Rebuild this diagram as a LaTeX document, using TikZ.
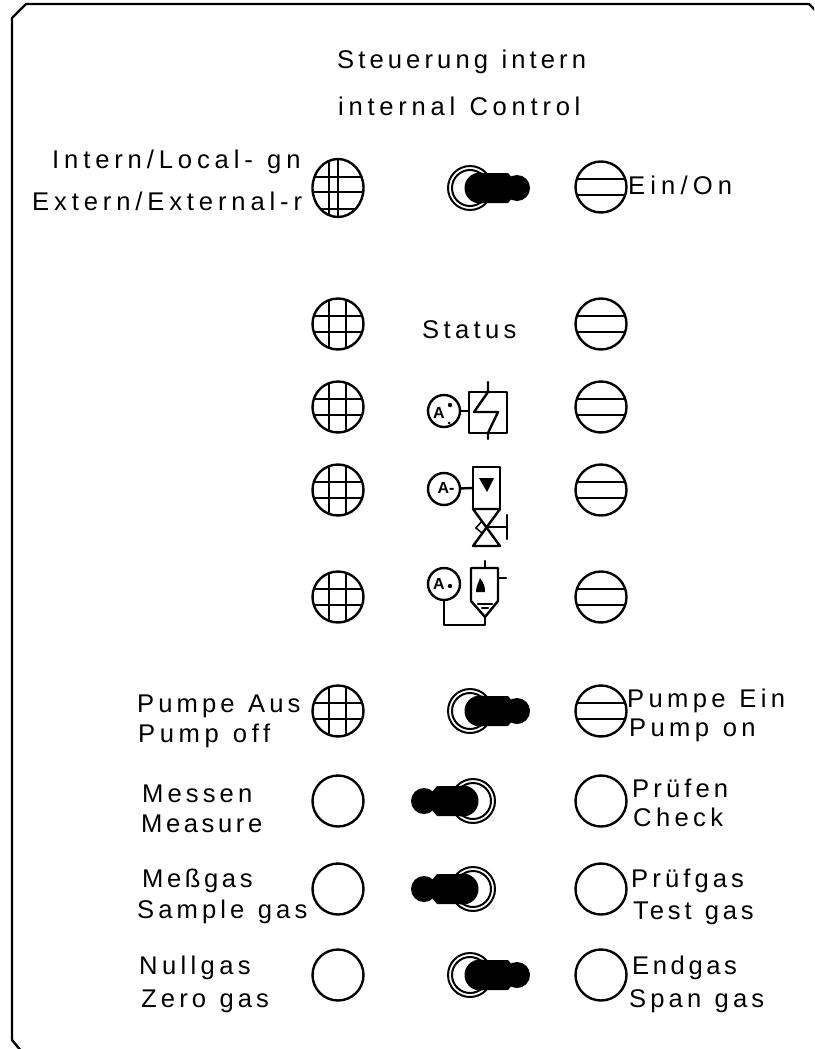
\documentclass[tikz,border=0pt]{standalone}
\usepackage{fontspec}
\setmainfont[WordSpace=1.2]{Liberation Sans}
\newfontfamily\iconfont{Liberation Sans}
\usetikzlibrary{shapes.geometric}
\tikzset{
  panel/.style={line width=2.4pt},
  caption/.style={anchor=base west, inner sep=0pt, font=\fontsize{25.6}{26}\selectfont\addfontfeatures{LetterSpace=#1}},
  caption/.default=16,
  lamp/.style={circle, draw, line width=2.4pt, minimum size=51pt, inner sep=0pt},
  gridlamp/.style={lamp, path picture={
    \draw[line width=2.4pt] (-9,-30) -- (-9,30);
    \draw[line width=2.4pt] (8,-30) -- (8,30);
    \draw[line width=2.4pt] (-30,-8) -- (30,-8);
    \draw[line width=2.4pt] (-30,8) -- (30,8);
    \draw[line width=2.4pt] (-30,25) -- (30,25);}},
  barlamp/.style={lamp, path picture={
    \draw[line width=2.4pt] (-30,-8) -- (30,-8);
    \draw[line width=2.4pt] (-30,8) -- (30,8);
    \fill (-30,23.5) rectangle (30,30);}},
  ring/.style={line width=2pt},
  symbol/.style={line width=2.4pt, line cap=round, line join=round},
  gauge/.style={circle, draw, line width=2.4pt, minimum size=32pt, inner sep=0pt},
  sign/.style={inner sep=0pt, font=\iconfont\fontsize{16}{16}\selectfont\bfseries}
}
\begin{document}
\begin{tikzpicture}[x=1pt, y=-1pt]
\useasboundingbox (0,0) rectangle (814,1049);
\clip (0,0) rectangle (814,1049);

% Front plate
\draw[panel] (22,1052) -- (12,1040) -- (12,18) -- (26,4) -- (809,4) -- (818,13);

% Headings and texts
\node[caption] (titleDe) at (337,69) {Steuerung intern};
\node[caption=18.5] (titleEn) at (338,115) {internal Control};
\node[caption=19] (internDe) at (52,168) {Intern/Local- gn};
\node[caption=19] (externDe) at (32,210) {Extern/External-r};
\node[caption=20] (einOn) at (628,194) {Ein/On};
\node[caption=17] (status) at (422,338) {Status};
\node[caption] (pumpAus) at (137,712) {Pumpe Aus};
\node[caption=18] (pumpOff) at (138,742) {Pump off};
\node[caption=17] (pumpEin) at (627,707) {Pumpe Ein};
\node[caption=17] (pumpOn) at (629,736) {Pump on};
\node[caption] (messen) at (142,802) {Messen};
\node[caption=14] (measure) at (141,832) {Measure};
\node[caption] (pruefen) at (632,797) {Prüfen};
\node[caption=17] (check) at (633,826) {Check};
\node[caption=14] (messgas) at (142,887) {Meßgas};
\node[caption] (sample) at (137,918) {Sample gas};
\node[caption] (pruefgas) at (631,887) {Prüfgas};
\node[caption=15] (testgas) at (633,919) {Test gas};
\node[caption=17] (nullgas) at (139,974) {Nullgas};
\node[caption] (zerogas) at (141,1007) {Zero gas};
\node[caption=14] (endgas) at (632,974) {Endgas};
\node[caption] (spangas) at (629,1007) {Span gas};

% Lamps, first column
\begin{scope}
\clip (338,188) ellipse (25.5pt and 29pt);
\draw[line width=2.4pt] (329,150) -- (329,225);
\draw[line width=2.4pt] (338,150) -- (338,225);
\draw[line width=2.4pt] (300,177) -- (380,177);
\draw[line width=2.4pt] (300,192) -- (380,192);
\draw[line width=2.4pt] (300,209) -- (380,209);
\end{scope}
\node[ellipse, draw, line width=2.4pt, minimum width=51pt, minimum height=58pt, inner sep=0pt] (lampTopLeft) at (338,188) {};
\node[gridlamp] (lampStatusLeft) at (338,324) {};
\node[gridlamp] (lampHeatLeft) at (338,407) {};
\node[gridlamp] (lampValveLeft) at (338,490) {};
\node[gridlamp] (lampPumpLeft) at (338,597) {};
\node[gridlamp] (lampOffLeft) at (338,711) {};
\node[lamp] (lampMessen) at (338,801) {};
\node[lamp] (lampMessgas) at (338,889) {};
\node[lamp] (lampNull) at (338,975) {};

% Lamps, second column
\node[barlamp] (lampTopRight) at (601,187) {};
\node[barlamp] (lampStatusRight) at (601,324) {};
\node[barlamp] (lampHeatRight) at (601,407) {};
\node[barlamp] (lampValveRight) at (601,490) {};
\node[barlamp] (lampPumpRight) at (601,597) {};
\node[barlamp] (lampOnRight) at (601,711) {};
\node[lamp] (lampPruefen) at (601,801) {};
\node[lamp] (lampPruefgas) at (601,889) {};
\node[lamp] (lampEnd) at (601,975) {};

% Switch levers pointing right
\foreach \yy in {188,711,975} {
  \draw[ring] (470,\yy) circle (22pt);
  \draw[ring] (470,\yy) circle (18pt);
  \fill (480,\yy) circle (15.5pt);
  \fill (483,\yy-15) -- (508,\yy-15) -- (513,\yy-9) -- (513,\yy+9) -- (508,\yy+15) -- (483,\yy+15) -- cycle;
  \fill (517,\yy) circle (13pt);
}

% Switch levers pointing left
\foreach \yy in {801,889} {
  \draw[ring] (473,\yy) circle (22pt);
  \draw[ring] (473,\yy) circle (18pt);
  \fill (463,\yy) circle (15.5pt);
  \fill (462,\yy-15) -- (437,\yy-15) -- (432,\yy-9) -- (432,\yy+9) -- (437,\yy+15) -- (462,\yy+15) -- cycle;
  \fill (424,\yy) circle (13pt);
}

% Heating symbol
\node[gauge] (gaugeHeat) at (444,411) {};
\node[sign] (signHeat) at (439,413) {A};
\fill (450,405) circle (2.2pt);
\fill (449,423) circle (1.5pt);
\draw[symbol] (469,392) rectangle (507,433);
\coordinate (heatBox) at (469,411);
\draw[symbol] (gaugeHeat) -- (heatBox);
\draw[symbol] (488,382) -- (488,392) -- (474,412) -- (498,412) -- (488,433) -- (488,439);

% Valve symbol
\node[gauge] (gaugeValve) at (444,489) {};
\node[sign] (signValve) at (446,488) {A-};
\draw[symbol] (473,467) rectangle (500,509);
\coordinate (valveBox) at (473,488);
\draw[symbol] (gaugeValve) -- (valveBox);
\fill (479,478) -- (494,478) -- (487,492) -- cycle;
\draw[symbol] (473,509) -- (500,509) -- (473,546) -- (500,546) -- cycle;
\draw[symbol] (486,527) -- (507,527);
\draw[symbol] (507,515) -- (507,539);
\draw[line width=1.5pt] (482,521) -- (476,528) -- (482,533);

% Pump symbol
\node[gauge] (gaugePump) at (444,584) {};
\node[sign] (signPump) at (439,584) {A};
\fill (450,586) circle (2.2pt);
\coordinate (pumpTip) at (485,617);
\draw[symbol] (gaugePump) -- (444,625) -- (485,625) -- (pumpTip);
\draw[symbol] (471,568) -- (498,568) -- (498,601) -- (pumpTip) -- (471,601) -- cycle;
\draw[symbol] (485,561) -- (485,568);
\draw[symbol] (498,578) -- (506,578);
\draw[symbol] (478,604) -- (492,604);
\draw[symbol] (482,608) -- (488,608);
\fill (480,578) .. controls (484,584) and (485,586) .. (485,592) -- (476,592) .. controls (476,586) and (478,584) .. (480,578);
\end{tikzpicture}
\end{document}
